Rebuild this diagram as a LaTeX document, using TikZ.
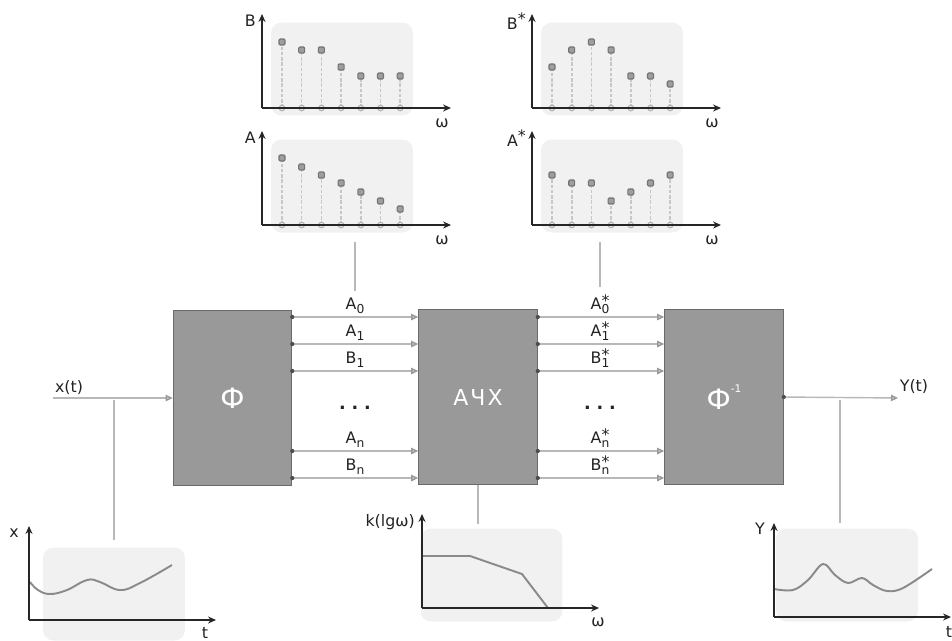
\documentclass[tikz,border=0pt]{standalone}
\usepackage{fontspec}
\setmainfont{DejaVu Sans}
\usetikzlibrary{arrows.meta, positioning, calc}
\definecolor{cbox}{HTML}{999999}
\definecolor{cedge}{HTML}{6A6A6A}
\definecolor{cpanel}{HTML}{F1F1F1}
\definecolor{cwire}{HTML}{B8B8B8}
\definecolor{ccurve}{HTML}{8A8A8A}
\definecolor{ctext}{HTML}{222222}
\newcommand\chanlab[2]{#1\raisebox{-0.45ex}{\scriptsize #2}}
\newcommand\chanstar[2]{#1\rlap{\raisebox{0.35ex}{*}}\raisebox{-0.45ex}{\scriptsize #2}}
\tikzset{
  every picture/.style={x=0.02cm, y=-0.02cm, font=\fontsize{9}{10}\selectfont, text=ctext, line width=0.6pt},
  blk/.style={draw=cedge, fill=cbox, text=white, minimum width=2.37cm, minimum height=3.5cm, inner sep=0pt},
  wire/.style={draw=cwire, line width=0.8pt, -{Triangle[length=4pt, width=3.6pt, color=black!40, fill=black!18]}},
  tap/.style={draw=cwire, line width=0.8pt},
  port/.style={circle, fill=black!70, inner sep=0pt, minimum size=2.4pt},
  axis/.style={draw=black!85, line width=1.1pt, -{Stealth[length=4.5pt, width=4pt]}},
  panel/.style={fill=cpanel, rounded corners=6pt, inner sep=0pt, minimum width=2.84cm, minimum height=1.86cm},
  stem/.style={draw=black!22, dash pattern=on 2pt off 1pt, line width=0.9pt},
  head/.style={draw=black!55, fill=black!38, rounded corners=0.6pt, inner sep=0pt, minimum size=3.4pt},
  foot/.style={circle, draw=black!30, fill=black!8, inner sep=0pt, minimum size=3.2pt},
  curve/.style={draw=ccurve, line width=1.1pt},
  lab/.style={inner sep=1pt},
}

\begin{document}
\begin{tikzpicture}
  \useasboundingbox (0,0) rectangle (952,640);

  % main blocks
  \node[blk, font=\fontsize{16}{16}\selectfont] (phi) at (232.5,398) {Ф};
  \node[blk, font=\fontsize{12.5}{12}\selectfont] (ach) at (478,397) {А\kern1.2ptЧ\kern1.2ptХ};
  \node[blk, font=\fontsize{16}{16}\selectfont] (inv) at (724,397) {Ф\raisebox{1.1ex}{\fontsize{6}{6}\selectfont -1}};

  % channels between blocks
  \foreach \y/\l/\s [count=\k] in {317/A/0, 344/A/1, 371/B/1, 451/A/n, 478/B/n}{
    \coordinate (r\k) at (0,\y);
    \draw[wire] (phi.east |- r\k) node[port]{} -- (ach.west |- r\k);
    \draw[wire] (ach.east |- r\k) node[port]{} -- (inv.west |- r\k);
    \node[lab, anchor=south] (cl\k) at (355,\y-1) {\chanlab{\l}{\s}};
    \node[lab, anchor=south] (cr\k) at (600,\y-1) {\chanstar{\l}{\s}};
  }
  \node[font=\bfseries\fontsize{10}{10}\selectfont] (dl) at (355,408) {.\,\,.\,\,.};
  \node[font=\bfseries\fontsize{10}{10}\selectfont] (dr) at (600,408) {.\,\,.\,\,.};

  % input and output
  \coordinate (xin) at (53,398);
  \node[lab] (xt) at (69,388) {x(t)};
  \draw[wire] (xin) -- (phi.west);
  \coordinate (yout) at (898,398);
  \node[lab] (yt) at (914,387) {Y(t)};
  \draw[wire] (inv.east) node[port]{} -- (yout);

  % top spectra
  \foreach \ox/\oy/\nm/\hs/\lb in {262/108/pB/{66,58,58,41,32,32,32}/B,
                                  262/225/pA/{67,58,50,42,33,24,16}/A,
                                  532/108/pBs/{41,58,66,58,32,32,24}/B\raisebox{0.5ex}{*},
                                  532/225/pAs/{50,42,42,24,33,42,50}/A\raisebox{0.5ex}{*}}{
    \begin{scope}[shift={(\ox,\oy)}]
      \node[panel] (\nm) at (80,-39) {};
      \foreach \h [count=\i] in \hs{
        \draw[stem] (0.3+19.7*\i,0) -- (0.3+19.7*\i,-\h);
        \node[foot] at (0.3+19.7*\i,0) {};
        \node[head] at (0.3+19.7*\i,-\h) {};
      }
      \draw[axis] (0,0) -- (0,-94);
      \draw[axis] (0,0) -- (189,0);
      \node[lab, anchor=east] at (-4,-87) {\lb};
      \node[lab] at (180,15) {ω};
    \end{scope}
  }

  % links from spectra to channels
  \draw[tap, shorten <=5pt, shorten >=3pt] (pA.south -| cl1.north) -- (cl1.north);
  \draw[tap, shorten <=5pt, shorten >=3pt] (pAs.south -| cr1.north) -- (cr1.north);

  % bottom left: input signal
  \coordinate (tx) at (114,398);
  \begin{scope}[shift={(29,620)}]
    \node[panel] (px) at (85,-26) {};
    \draw[curve] plot[smooth, tension=0.7] coordinates {(1,-38) (9,-30) (21,-26) (38,-30) (58,-40) (71,-38) (91,-30) (111,-37) (143,-55)};
    \draw[axis] (0,0) -- (0,-94);
    \draw[axis] (0,0) -- (187,0);
    \node[lab] at (-15,-87) {x};
    \node[lab] at (176,13) {t};
  \end{scope}
  \draw[tap, shorten <=1pt, shorten >=4pt] (tx) -- (tx |- px.north);

  % bottom middle: frequency response
  \begin{scope}[shift={(422,608)}]
    \node[panel] (pk) at (69.5,-33) {};
    \draw[curve] (0,-52) -- (48,-52) -- (100,-34) -- (126,0);
    \draw[axis] (0,0) -- (0,-94);
    \draw[axis] (0,0) -- (177,0);
    \node[lab, anchor=east] at (-5,-86) {k(lgω)};
    \node[lab] at (176,14) {ω};
  \end{scope}
  \draw[tap, shorten >=2pt] (ach.south) -- (ach.south |- pk.north);

  % bottom right: output signal
  \coordinate (ty) at (840,398);
  \begin{scope}[shift={(774,617)}]
    \node[panel] (py) at (73,-42) {};
    \draw[curve] plot[smooth, tension=0.6] coordinates {(0,-28) (19,-27) (34,-37) (49,-53) (61,-42) (74,-34) (88,-39) (99,-32) (113,-26) (129,-29) (158,-48)};
    \draw[axis] (0,0) -- (0,-94);
    \draw[axis] (0,0) -- (177,0);
    \node[lab] at (-14,-88) {Y};
    \node[lab] at (175,15) {t};
  \end{scope}
  \draw[tap, shorten <=1pt, shorten >=3pt] (ty) -- (ty |- py.north);
\end{tikzpicture}
\end{document}
